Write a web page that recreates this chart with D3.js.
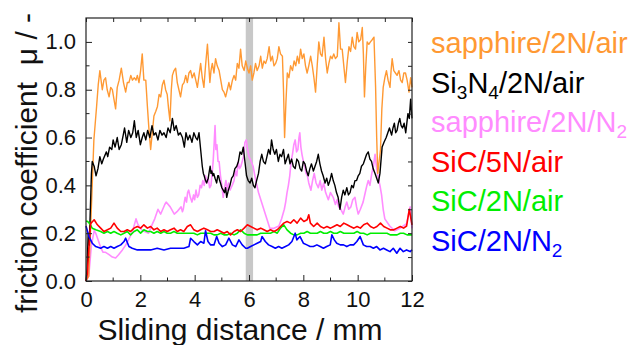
<!DOCTYPE html>
<html>
<head>
<meta charset="utf-8">
<script src="https://cdn.jsdelivr.net/npm/d3@7/dist/d3.min.js"></script>
<style>
  html, body { margin: 0; padding: 0; background: #fff; }
  svg { display: block; font-family: "Liberation Sans", Arial, sans-serif; }
</style>
</head>
<body>
<figure id="friction-chart" style="margin:0"></figure>
<script>
// sliding distance (mm), friction coefficient pairs
const sapphireAir = [[0,0],[0.1,0.02],[0.18,0.25],[0.29,0.59],[0.39,0.73],[0.45,0.82],[0.51,0.88],[0.6,0.8],[0.66,0.84],[0.72,0.85],[0.78,0.8],[0.85,0.77],[0.91,0.81],[0.97,0.8],[1.03,0.76],[1.09,0.72],[1.15,0.81],[1.22,0.84],[1.3,0.89],[1.38,0.83],[1.46,0.79],[1.52,0.83],[1.58,0.83],[1.65,0.86],[1.71,0.84],[1.78,0.85],[1.84,0.84],[1.89,0.86],[1.95,0.83],[2.01,0.88],[2.07,0.95],[2.13,0.84],[2.2,0.84],[2.26,0.73],[2.32,0.63],[2.38,0.55],[2.44,0.62],[2.5,0.69],[2.57,0.71],[2.63,0.73],[2.69,0.78],[2.75,0.77],[2.81,0.82],[2.87,0.84],[2.93,0.8],[2.99,0.78],[3.04,0.72],[3.09,0.67],[3.14,0.8],[3.18,0.86],[3.24,0.88],[3.3,0.89],[3.36,0.83],[3.42,0.8],[3.48,0.77],[3.55,0.82],[3.61,0.83],[3.67,0.86],[3.73,0.83],[3.79,0.87],[3.85,0.88],[3.91,0.85],[3.98,0.87],[4.04,0.84],[4.1,0.81],[4.16,0.86],[4.22,0.91],[4.28,0.85],[4.34,0.81],[4.4,0.9],[4.47,0.99],[4.52,0.9],[4.56,0.83],[4.6,0.88],[4.65,0.91],[4.71,0.87],[4.77,0.93],[4.83,0.9],[4.9,0.88],[4.96,0.84],[5.02,0.8],[5.08,0.79],[5.14,0.77],[5.2,0.8],[5.26,0.83],[5.32,0.8],[5.39,0.84],[5.45,0.86],[5.51,0.84],[5.57,0.91],[5.63,0.89],[5.69,0.97],[5.75,0.9],[5.82,0.88],[5.88,0.92],[5.94,0.89],[6.0,0.87],[6.06,0.9],[6.12,0.84],[6.18,0.87],[6.24,0.91],[6.3,0.88],[6.37,0.9],[6.43,0.94],[6.49,0.89],[6.55,0.92],[6.61,0.91],[6.67,0.93],[6.74,0.98],[6.8,0.92],[6.86,0.94],[6.92,0.9],[6.98,0.91],[7.04,0.93],[7.1,0.98],[7.16,0.95],[7.23,0.94],[7.27,0.8],[7.31,0.6],[7.36,0.75],[7.41,0.87],[7.47,0.85],[7.53,0.9],[7.6,0.88],[7.66,0.92],[7.72,0.9],[7.78,0.94],[7.84,0.91],[7.9,0.97],[7.96,0.93],[8.02,0.95],[8.08,0.9],[8.14,0.87],[8.2,0.9],[8.27,0.94],[8.33,0.9],[8.39,0.85],[8.45,0.79],[8.51,0.9],[8.57,1.0],[8.63,0.95],[8.69,0.94],[8.76,1.02],[8.82,0.93],[8.88,0.87],[8.94,0.91],[9.0,0.94],[9.06,0.93],[9.12,0.95],[9.18,0.93],[9.25,0.94],[9.31,1.08],[9.37,0.97],[9.43,0.97],[9.49,0.9],[9.55,0.83],[9.62,0.92],[9.68,0.98],[9.74,0.96],[9.8,1.02],[9.86,0.98],[9.92,0.97],[9.98,1.04],[10.04,1.0],[10.11,1.01],[10.17,1.06],[10.21,0.95],[10.25,0.77],[10.3,0.9],[10.35,1.0],[10.41,0.99],[10.47,1.0],[10.54,1.01],[10.6,1.02],[10.66,0.81],[10.7,0.6],[10.74,0.45],[10.79,0.5],[10.84,0.55],[10.89,0.72],[10.94,0.81],[11.0,0.85],[11.06,0.88],[11.12,0.84],[11.19,0.81],[11.23,0.88],[11.27,0.93],[11.33,0.88],[11.39,0.87],[11.45,0.86],[11.52,0.88],[11.58,0.84],[11.64,0.83],[11.7,0.87],[11.76,0.87],[11.82,0.84],[11.89,0.79],[11.95,0.85],[12.0,0.81]];

const si3n4Air = [[0,0.0],[0.04,0.05],[0.08,0.2],[0.12,0.15],[0.16,0.3],[0.2,0.45],[0.23,0.5],[0.3,0.48],[0.37,0.44],[0.44,0.47],[0.51,0.52],[0.58,0.49],[0.64,0.51],[0.75,0.54],[0.8,0.52],[0.87,0.56],[0.95,0.55],[1.0,0.59],[1.07,0.56],[1.15,0.6],[1.22,0.55],[1.3,0.57],[1.37,0.61],[1.42,0.64],[1.5,0.58],[1.57,0.63],[1.65,0.6],[1.72,0.62],[1.78,0.67],[1.85,0.6],[1.92,0.63],[2.0,0.57],[2.07,0.6],[2.13,0.62],[2.2,0.59],[2.27,0.63],[2.35,0.6],[2.43,0.65],[2.5,0.61],[2.57,0.62],[2.65,0.59],[2.72,0.63],[2.8,0.61],[2.87,0.62],[2.95,0.6],[3.02,0.64],[3.1,0.62],[3.18,0.68],[3.25,0.63],[3.32,0.65],[3.4,0.61],[3.47,0.62],[3.55,0.6],[3.62,0.56],[3.68,0.62],[3.75,0.59],[3.82,0.61],[3.9,0.58],[3.97,0.62],[4.04,0.6],[4.1,0.59],[4.16,0.62],[4.22,0.55],[4.28,0.48],[4.32,0.45],[4.35,0.44],[4.4,0.42],[4.44,0.41],[4.5,0.43],[4.54,0.46],[4.57,0.48],[4.6,0.45],[4.63,0.46],[4.67,0.44],[4.7,0.45],[4.75,0.43],[4.81,0.41],[4.85,0.44],[4.88,0.44],[4.92,0.42],[4.95,0.41],[5.0,0.39],[5.05,0.38],[5.1,0.37],[5.14,0.39],[5.18,0.35],[5.24,0.38],[5.3,0.4],[5.36,0.43],[5.42,0.44],[5.48,0.47],[5.55,0.48],[5.61,0.5],[5.67,0.54],[5.73,0.53],[5.79,0.56],[5.85,0.5],[5.91,0.44],[5.97,0.42],[6.04,0.41],[6.1,0.43],[6.16,0.4],[6.22,0.39],[6.28,0.42],[6.35,0.45],[6.41,0.5],[6.47,0.53],[6.53,0.5],[6.6,0.49],[6.66,0.52],[6.72,0.55],[6.78,0.53],[6.83,0.59],[6.89,0.55],[6.95,0.53],[7.01,0.55],[7.08,0.5],[7.14,0.53],[7.2,0.52],[7.27,0.55],[7.33,0.49],[7.39,0.51],[7.45,0.53],[7.51,0.49],[7.57,0.51],[7.63,0.48],[7.7,0.47],[7.76,0.51],[7.82,0.5],[7.88,0.47],[7.94,0.46],[8.0,0.5],[8.06,0.49],[8.12,0.46],[8.18,0.44],[8.24,0.47],[8.3,0.49],[8.37,0.46],[8.43,0.48],[8.49,0.5],[8.55,0.53],[8.61,0.49],[8.67,0.46],[8.73,0.44],[8.8,0.41],[8.86,0.43],[8.92,0.4],[8.98,0.42],[9.04,0.45],[9.1,0.42],[9.16,0.4],[9.22,0.37],[9.28,0.35],[9.35,0.3],[9.41,0.35],[9.47,0.38],[9.53,0.36],[9.6,0.39],[9.66,0.36],[9.72,0.37],[9.78,0.4],[9.84,0.39],[9.9,0.42],[9.96,0.42],[10.02,0.44],[10.08,0.45],[10.14,0.48],[10.21,0.49],[10.27,0.51],[10.33,0.53],[10.39,0.54],[10.45,0.51],[10.51,0.5],[10.57,0.47],[10.64,0.45],[10.7,0.43],[10.76,0.41],[10.82,0.45],[10.9,0.56],[10.97,0.58],[11.05,0.6],[11.11,0.62],[11.17,0.64],[11.25,0.61],[11.3,0.64],[11.35,0.66],[11.4,0.62],[11.45,0.63],[11.5,0.66],[11.55,0.68],[11.6,0.65],[11.65,0.64],[11.71,0.66],[11.77,0.62],[11.81,0.66],[11.85,0.7],[11.9,0.68],[11.95,0.76],[12,0.68]];

const sapphireN2 = [[0,0],[0.1,0.02],[0.2,0.15],[0.3,0.21],[0.36,0.2],[0.45,0.17],[0.54,0.14],[0.63,0.12],[0.72,0.12],[0.85,0.11],[0.97,0.1],[1.09,0.096],[1.2,0.11],[1.34,0.13],[1.46,0.15],[1.6,0.18],[1.72,0.21],[1.84,0.26],[1.9,0.24],[2.0,0.22],[2.1,0.21],[2.3,0.2],[2.45,0.24],[2.53,0.26],[2.65,0.3],[2.75,0.28],[2.9,0.32],[2.95,0.33],[3.1,0.31],[3.25,0.28],[3.35,0.29],[3.5,0.31],[3.55,0.29],[3.58,0.3],[3.62,0.33],[3.65,0.35],[3.7,0.33],[3.74,0.37],[3.78,0.38],[3.84,0.35],[3.9,0.33],[3.96,0.36],[4.0,0.34],[4.05,0.38],[4.1,0.35],[4.15,0.36],[4.2,0.4],[4.25,0.39],[4.3,0.42],[4.35,0.4],[4.4,0.44],[4.45,0.41],[4.5,0.43],[4.55,0.39],[4.6,0.4],[4.65,0.46],[4.68,0.5],[4.72,0.58],[4.75,0.65],[4.78,0.55],[4.82,0.57],[4.86,0.5],[4.9,0.5],[4.95,0.44],[5.0,0.4],[5.05,0.35],[5.1,0.39],[5.15,0.42],[5.2,0.38],[5.25,0.41],[5.3,0.38],[5.38,0.4],[5.45,0.42],[5.5,0.46],[5.55,0.44],[5.6,0.5],[5.65,0.47],[5.7,0.48],[5.75,0.5],[5.8,0.52],[5.85,0.58],[5.9,0.59],[5.95,0.55],[6.0,0.52],[6.08,0.5],[6.15,0.48],[6.25,0.42],[6.35,0.37],[6.46,0.33],[6.6,0.28],[6.77,0.22],[6.9,0.22],[7.1,0.23],[7.2,0.26],[7.3,0.3],[7.35,0.33],[7.4,0.37],[7.45,0.4],[7.5,0.44],[7.55,0.5],[7.6,0.53],[7.65,0.57],[7.7,0.59],[7.75,0.54],[7.8,0.55],[7.84,0.6],[7.87,0.62],[7.91,0.56],[7.95,0.53],[8.0,0.5],[8.05,0.48],[8.1,0.45],[8.15,0.44],[8.2,0.41],[8.28,0.38],[8.34,0.42],[8.4,0.45],[8.47,0.41],[8.55,0.39],[8.62,0.42],[8.68,0.38],[8.75,0.41],[8.82,0.37],[8.92,0.34],[9.0,0.37],[9.1,0.35],[9.18,0.32],[9.24,0.34],[9.3,0.31],[9.38,0.3],[9.47,0.28],[9.54,0.31],[9.6,0.33],[9.67,0.3],[9.75,0.31],[9.82,0.34],[9.9,0.35],[9.96,0.31],[10.02,0.28],[10.1,0.3],[10.2,0.33],[10.28,0.37],[10.34,0.4],[10.39,0.42],[10.45,0.4],[10.52,0.45],[10.58,0.48],[10.64,0.53],[10.7,0.47],[10.76,0.43],[10.82,0.4],[10.88,0.36],[10.94,0.3],[11.0,0.26],[11.18,0.23],[11.37,0.21],[11.55,0.22],[11.8,0.24],[11.93,0.31],[12,0.22]];

const sic5nAir = [[0,0],[0.05,0.03],[0.1,0.13],[0.17,0.24],[0.25,0.25],[0.3,0.256],[0.42,0.235],[0.54,0.221],[0.66,0.207],[0.79,0.214],[0.91,0.221],[1.03,0.242],[1.15,0.221],[1.28,0.207],[1.4,0.207],[1.52,0.214],[1.64,0.207],[1.77,0.221],[1.89,0.228],[2.01,0.221],[2.13,0.235],[2.26,0.221],[2.38,0.228],[2.5,0.214],[2.62,0.221],[2.75,0.207],[2.87,0.214],[2.99,0.207],[3.11,0.214],[3.24,0.221],[3.36,0.207],[3.48,0.214],[3.6,0.207],[3.73,0.228],[3.85,0.235],[3.97,0.214],[4.1,0.207],[4.22,0.214],[4.34,0.221],[4.47,0.214],[4.59,0.207],[4.71,0.207],[4.83,0.214],[4.96,0.207],[5.08,0.2],[5.2,0.207],[5.32,0.193],[5.45,0.207],[5.57,0.214],[5.69,0.207],[5.82,0.221],[5.94,0.235],[6.06,0.228],[6.18,0.221],[6.3,0.214],[6.43,0.221],[6.55,0.214],[6.67,0.207],[6.79,0.214],[6.92,0.207],[7.04,0.214],[7.16,0.228],[7.28,0.242],[7.4,0.249],[7.53,0.242],[7.65,0.256],[7.77,0.242],[7.9,0.263],[8.02,0.249],[8.14,0.256],[8.2,0.277],[8.26,0.242],[8.38,0.228],[8.51,0.242],[8.63,0.228],[8.75,0.221],[8.87,0.228],[9.0,0.221],[9.12,0.228],[9.24,0.235],[9.36,0.228],[9.49,0.242],[9.61,0.235],[9.73,0.228],[9.86,0.221],[9.98,0.228],[10.1,0.221],[10.22,0.235],[10.35,0.242],[10.47,0.228],[10.59,0.221],[10.71,0.228],[10.84,0.242],[10.96,0.228],[11.08,0.221],[11.2,0.214],[11.33,0.214],[11.45,0.221],[11.57,0.228],[11.69,0.221],[11.8,0.23],[11.9,0.3],[12,0.235]];

const sic2nAir = [[0,0.25],[0.05,0.25],[0.12,0.242],[0.23,0.221],[0.36,0.214],[0.54,0.207],[0.66,0.2],[0.79,0.207],[0.91,0.2],[1.03,0.207],[1.15,0.2],[1.28,0.193],[1.4,0.2],[1.52,0.207],[1.64,0.193],[1.77,0.207],[1.89,0.214],[2.01,0.2],[2.13,0.214],[2.26,0.207],[2.38,0.207],[2.5,0.2],[2.62,0.207],[2.75,0.2],[2.87,0.207],[2.99,0.2],[3.11,0.2],[3.24,0.207],[3.36,0.2],[3.48,0.2],[3.6,0.2],[3.73,0.2],[3.85,0.2],[3.97,0.2],[4.1,0.193],[4.22,0.2],[4.34,0.2],[4.47,0.2],[4.59,0.2],[4.71,0.193],[4.83,0.193],[4.96,0.2],[5.08,0.193],[5.2,0.193],[5.32,0.2],[5.45,0.193],[5.57,0.2],[5.69,0.214],[5.82,0.2],[5.94,0.193],[6.06,0.193],[6.18,0.193],[6.3,0.193],[6.43,0.2],[6.55,0.2],[6.67,0.2],[6.79,0.2],[6.92,0.207],[7.04,0.2],[7.16,0.221],[7.28,0.235],[7.4,0.214],[7.53,0.2],[7.65,0.193],[7.77,0.193],[7.9,0.2],[8.02,0.2],[8.14,0.207],[8.26,0.2],[8.38,0.2],[8.51,0.2],[8.63,0.207],[8.75,0.2],[8.87,0.2],[9.0,0.207],[9.12,0.2],[9.24,0.2],[9.36,0.207],[9.49,0.2],[9.61,0.2],[9.73,0.2],[9.86,0.2],[9.98,0.207],[10.1,0.2],[10.22,0.2],[10.35,0.193],[10.47,0.2],[10.59,0.2],[10.71,0.2],[10.84,0.2],[10.96,0.2],[11.08,0.2],[11.2,0.193],[11.33,0.193],[11.45,0.193],[11.57,0.2],[11.69,0.2],[11.82,0.193],[12,0.193]];

const sic2nN2 = [[0,0.23],[0.05,0.21],[0.11,0.186],[0.23,0.158],[0.36,0.144],[0.54,0.137],[0.66,0.144],[0.79,0.137],[0.91,0.144],[1.03,0.137],[1.15,0.144],[1.28,0.151],[1.4,0.165],[1.46,0.179],[1.58,0.144],[1.7,0.137],[1.89,0.13],[2.13,0.13],[2.38,0.13],[2.62,0.137],[2.87,0.13],[3.11,0.137],[3.36,0.137],[3.6,0.137],[3.79,0.144],[3.85,0.179],[3.97,0.165],[4.1,0.151],[4.22,0.165],[4.34,0.158],[4.4,0.21],[4.49,0.165],[4.59,0.151],[4.71,0.151],[4.81,0.186],[4.9,0.158],[5.02,0.144],[5.14,0.151],[5.26,0.179],[5.39,0.151],[5.51,0.144],[5.63,0.172],[5.75,0.151],[5.88,0.137],[5.94,0.137],[6.06,0.144],[6.18,0.151],[6.3,0.158],[6.43,0.165],[6.48,0.186],[6.6,0.165],[6.72,0.151],[6.85,0.144],[6.97,0.137],[7.09,0.144],[7.21,0.137],[7.34,0.144],[7.46,0.151],[7.58,0.165],[7.7,0.2],[7.76,0.172],[7.88,0.186],[8.0,0.158],[8.13,0.151],[8.25,0.144],[8.37,0.144],[8.5,0.151],[8.62,0.144],[8.74,0.137],[8.86,0.144],[8.99,0.151],[9.05,0.193],[9.14,0.172],[9.23,0.158],[9.36,0.151],[9.48,0.151],[9.6,0.144],[9.72,0.151],[9.85,0.151],[9.97,0.165],[10.09,0.186],[10.21,0.151],[10.33,0.144],[10.46,0.144],[10.58,0.137],[10.7,0.144],[10.82,0.13],[10.95,0.137],[11.07,0.13],[11.19,0.123],[11.31,0.137],[11.44,0.116],[11.56,0.137],[11.68,0.123],[11.8,0.13],[11.93,0.123],[12,0.13]];

const xTicks = [0, 2, 4, 6, 8, 10, 12];
const yTicks = [0.0, 0.2, 0.4, 0.6, 0.8, 1.0];
const markedBand = [5.88, 6.15];

const width = 640;
const height = 345;
const plot = { left: 86, right: 412, top: 18, bottom: 281 };

const svg = d3.select('figure#friction-chart')
    .append('svg')
    .attr('width', width)
    .attr('height', height);

const x = d3.scaleLinear().domain([0, 12]).range([plot.left, plot.right]);
const y = d3.scaleLinear().domain([0, 1.1]).range([plot.bottom, plot.top]);

// grey marker band around 6 mm
svg.append('rect')
    .attr('x', x(markedBand[0]))
    .attr('y', plot.top)
    .attr('width', x(markedBand[1]) - x(markedBand[0]))
    .attr('height', plot.bottom - plot.top)
    .attr('fill', '#c8c8c8');

const line = d3.line().x(d => x(d[0])).y(d => y(d[1]));

// draw order: pink underneath
const series = [
    { data: sapphireN2, color: '#ff8cff', width: 1.6 },
    { data: sapphireAir, color: '#ff9933', width: 1.4 },
    { data: si3n4Air, color: '#000000', width: 1.4 },
    { data: sic2nAir, color: '#00ee00', width: 1.6 },
    { data: sic5nAir, color: '#ff0000', width: 1.6 },
    { data: sic2nN2, color: '#0000ff', width: 1.6 }
];

svg.append('g')
    .selectAll('path')
    .data(series)
    .enter()
    .append('path')
    .attr('d', d => line(d.data))
    .attr('fill', 'none')
    .attr('stroke', d => d.color)
    .attr('stroke-width', d => d.width)
    .attr('stroke-linejoin', 'round');

// axes with inward ticks
const xAxis = d3.axisBottom(x).tickValues(xTicks).tickSizeInner(-6).tickSizeOuter(0).tickPadding(10).tickFormat(d3.format('d'));
const yAxis = d3.axisLeft(y).tickValues(yTicks).tickSizeInner(-6).tickSizeOuter(0).tickPadding(10).tickFormat(d3.format('.1f'));

const gx = svg.append('g').attr('transform', `translate(0,${plot.bottom})`).call(xAxis);
const gy = svg.append('g').attr('transform', `translate(${plot.left},0)`).call(yAxis);
[gx, gy].forEach(g => {
    g.select('.domain').remove();
    g.selectAll('line').attr('stroke', '#222');
    g.selectAll('text').attr('font-size', 22).attr('fill', '#111').attr('font-family', '"Liberation Sans", Arial, sans-serif');
});

// minor ticks
const minorX = d3.range(1, 12, 2);
const minorY = d3.range(0.1, 1.1, 0.2);
svg.append('g').selectAll('line').data(minorX).enter().append('line')
    .attr('x1', d => x(d)).attr('x2', d => x(d))
    .attr('y1', plot.bottom).attr('y2', plot.bottom - 3.5)
    .attr('stroke', '#222');
svg.append('g').selectAll('line').data(minorY).enter().append('line')
    .attr('x1', plot.left).attr('x2', plot.left + 3.5)
    .attr('y1', d => y(d)).attr('y2', d => y(d))
    .attr('stroke', '#222');

// mirrored ticks on top and right
const topAxis = d3.axisTop(x).tickValues(d3.range(0, 13, 1)).tickSizeInner(-4).tickSizeOuter(0).tickFormat('');
const rightAxis = d3.axisRight(y).tickValues(d3.range(0, 11).map(i => i / 10)).tickSizeInner(-4).tickSizeOuter(0).tickFormat('');
svg.append('g').attr('transform', `translate(0,${plot.top})`).call(topAxis)
    .call(g => g.select('.domain').remove()).selectAll('line').attr('stroke', '#222');
svg.append('g').attr('transform', `translate(${plot.right},0)`).call(rightAxis)
    .call(g => g.select('.domain').remove()).selectAll('line').attr('stroke', '#222');

// frame
svg.append('rect')
    .attr('x', plot.left).attr('y', plot.top)
    .attr('width', plot.right - plot.left).attr('height', plot.bottom - plot.top)
    .attr('fill', 'none').attr('stroke', '#222').attr('stroke-width', 1.2);

// axis titles
svg.append('text')
    .attr('x', (plot.left + plot.right) / 2 - 9)
    .attr('y', 340)
    .attr('text-anchor', 'middle')
    .attr('font-size', 30)
    .attr('fill', '#111')
    .text('Sliding distance / mm');

svg.append('text')
    .attr('transform', 'translate(37,163) rotate(-90)')
    .attr('text-anchor', 'middle')
    .attr('font-size', 30)
    .attr('fill', '#111')
    .attr('xml:space', 'preserve')
    .style('white-space', 'pre')
    .text('friction coefficient  \u03bc / -');

// legend
const legend = [
    { parts: [['sapphire/2N/air', false]], color: '#ff9933' },
    { parts: [['Si', false], ['3', true], ['N', false], ['4', true], ['/2N/air', false]], color: '#000000' },
    { parts: [['sapphire/2N/N', false], ['2', true]], color: '#ff8cff' },
    { parts: [['SiC/5N/air', false]], color: '#ff0000' },
    { parts: [['SiC/2N/air', false]], color: '#00ee00' },
    { parts: [['SiC/2N/N', false], ['2', true]], color: '#0000ff' }
];

legend.forEach((item, i) => {
    const t = svg.append('text')
        .attr('x', 431)
        .attr('y', 53 + i * 39.5)
        .attr('font-size', 29)
        .attr('fill', item.color);
    let sub = false;
    item.parts.forEach(([txt, isSub]) => {
        const dy = isSub && !sub ? 6 : (!isSub && sub ? -6 : 0);
        t.append('tspan')
            .attr('dy', dy)
            .attr('font-size', isSub ? 19 : 29)
            .text(txt);
        sub = isSub;
    });
});
</script>
</body>
</html>
